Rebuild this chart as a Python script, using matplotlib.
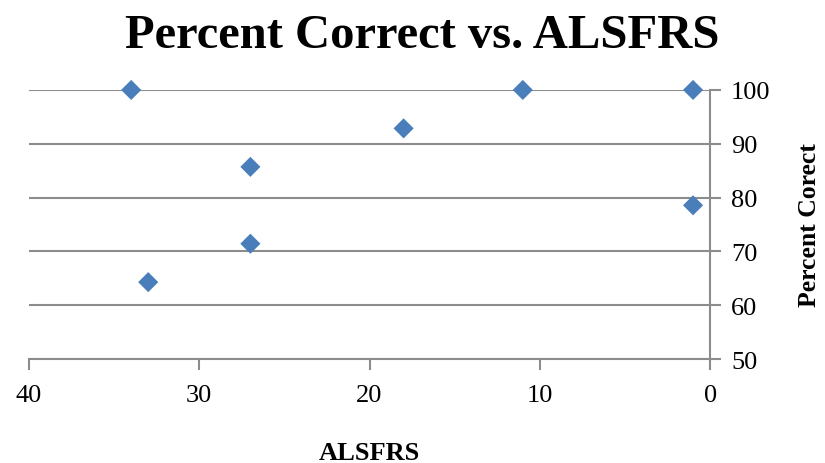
import matplotlib.pyplot as plt

# ALSFRS score and percent of trials answered correctly
alsfrs = [34, 11, 1, 18, 27, 1, 27, 33]
percent_correct = [100, 100, 100, 92.86, 85.71, 78.57, 71.43, 64.29]

x_ticks = [40, 30, 20, 10, 0]
y_ticks = [50, 60, 70, 80, 90, 100]

plt.rcParams['font.family'] = ['Liberation Serif', 'DejaVu Serif']
grey = '#8c8c8c'

fig = plt.figure(figsize=(8.25, 4.64), dpi=100)
ax = fig.add_axes([0.0352, 0.224, 0.8255, 0.580])

ax.scatter(alsfrs, percent_correct, marker='D', s=105, color='#4a7ebb',
           edgecolors='none', zorder=3, clip_on=False)

ax.set_xlim(40, 0)
ax.set_ylim(50, 100)
ax.set_xticks(x_ticks)
ax.set_yticks(y_ticks)

ax.yaxis.tick_right()
ax.yaxis.set_label_position('right')
ax.grid(axis='y', color=grey, linewidth=1.5)
ax.set_axisbelow(True)

for side in ['top', 'left']:
    ax.spines[side].set_visible(False)
for side in ['bottom', 'right']:
    ax.spines[side].set_color(grey)
    ax.spines[side].set_linewidth(1.5)

ax.tick_params(axis='both', colors=grey, width=1.5, length=8,
               labelcolor='black', labelsize=19)
ax.tick_params(axis='x', pad=10)
ax.tick_params(axis='y', pad=7)

fig.text(0.512, 0.922, 'Percent Correct vs. ALSFRS', fontsize=35,
         fontweight='bold', ha='center', va='center')
ax.set_xlabel('ALSFRS', fontsize=19, fontweight='bold', labelpad=25)
ax.set_ylabel('Percent Corect', fontsize=18.5, fontweight='bold', labelpad=20)

fig.savefig('out.png', dpi=100)
